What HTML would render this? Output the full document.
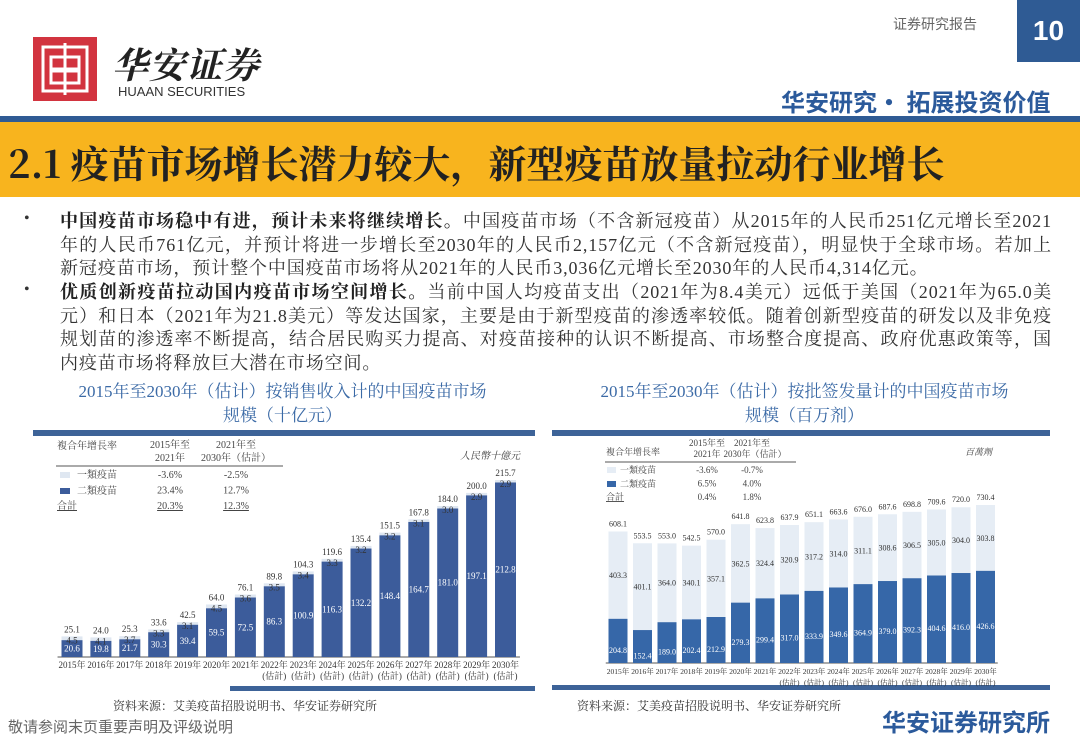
<!DOCTYPE html>
<html><head><meta charset="utf-8">
<style>
body{margin:0;width:1080px;height:748px;background:#fff;position:relative;overflow:hidden;font-family:"Liberation Serif","Noto Serif CJK SC",serif;}
.a{position:absolute;white-space:nowrap;}
.p{position:absolute;left:60px;width:992px;font-size:18px;letter-spacing:0.9px;line-height:23.5px;color:#333;white-space:normal;text-align:justify;font-family:"Liberation Serif","Noto Serif CJK SC",serif;}
.p b{color:#222}
.bul{position:absolute;left:24px;font-size:16px;color:#333}
</style></head><body>
<div class="a" style="left:33px;top:37px;width:64px;height:64px;background:#d2343f;"></div>
<svg class="a" style="left:33px;top:37px" width="64" height="64"><g fill="none" stroke="#fff" stroke-width="3"><rect x="10" y="10" width="44" height="44"/><rect x="18" y="20" width="28" height="12"/><rect x="18" y="34" width="28" height="12"/><line x1="32" y1="6" x2="32" y2="58"/></g></svg>
<div class="a" style="left:112px;top:38px;font-size:36px;font-weight:bold;font-family:'Noto Serif CJK SC',serif;color:#222;letter-spacing:1px;font-style:italic">华安证券</div>
<div class="a" style="left:118px;top:84px;font-size:13px;color:#333;font-family:'Liberation Sans',sans-serif">HUAAN SECURITIES</div>
<div class="a" style="left:893px;top:14px;font-size:14px;color:#666;font-family:'Noto Sans CJK SC',sans-serif">证券研究报告</div>
<div class="a" style="left:1017px;top:0;width:63px;height:62px;background:#2f5b94;color:#fff;font:bold 28px 'Liberation Sans',sans-serif;text-align:center;line-height:62px">10</div>
<div class="a" style="left:781px;top:83px;font-size:24px;font-weight:bold;color:#2b5a9b;font-family:'Noto Sans CJK SC',sans-serif">华安研究• 拓展投资价值</div>
<div class="a" style="left:0;top:116px;width:1080px;height:6px;background:#2f5b94"></div>
<div class="a" style="left:0;top:122px;width:1080px;height:75px;background:#f8b41e"></div>
<div class="a" style="left:8px;top:134px;font-size:38px;font-weight:bold;color:#222;font-family:'Noto Serif CJK SC',serif">2.1 疫苗市场增长潜力较大，新型疫苗放量拉动行业增长</div>

<div class="bul" style="top:210px">•</div>
<div class="p" style="top:210px"><b>中国疫苗市场稳中有进，预计未来将继续增长。</b>中国疫苗市场（不含新冠疫苗）从2015年的人民币251亿元增长至2021年的人民币761亿元，并预计将进一步增长至2030年的人民币2,157亿元（不含新冠疫苗），明显快于全球市场。若加上新冠疫苗市场，预计整个中国疫苗市场将从2021年的人民币3,036亿元增长至2030年的人民币4,314亿元。</div>
<div class="bul" style="top:281px">•</div>
<div class="p" style="top:281px"><b>优质创新疫苗拉动国内疫苗市场空间增长。</b>当前中国人均疫苗支出（2021年为8.4美元）远低于美国（2021年为65.0美元）和日本（2021年为21.8美元）等发达国家，主要是由于新型疫苗的渗透率较低。随着创新型疫苗的研发以及非免疫规划苗的渗透率不断提高，结合居民购买力提高、对疫苗接种的认识不断提高、市场整合度提高、政府优惠政策等，国内疫苗市场将释放巨大潜在市场空间。</div>

<div class="a" style="left:30px;top:380px;width:505px;text-align:center;font-size:17px;line-height:24px;color:#3b6aa6;white-space:normal">2015年至2030年（估计）按销售收入计的中国疫苗市场<br>规模（十亿元）</div>
<div class="a" style="left:552px;top:380px;width:505px;text-align:center;font-size:17px;line-height:24px;color:#3b6aa6;white-space:normal">2015年至2030年（估计）按批签发量计的中国疫苗市场<br>规模（百万剂）</div>
<div class="a" style="left:33px;top:430px;width:502px;height:6px;background:#3d6398"></div>
<div class="a" style="left:552px;top:430px;width:498px;height:6px;background:#3d6398"></div>
<div class="a" style="left:230px;top:686px;width:305px;height:5px;background:#3d6398"></div>
<div class="a" style="left:552px;top:685px;width:498px;height:5px;background:#3d6398"></div>

<svg id="charts" class="a" style="left:0;top:0" width="1080" height="748" font-family="'Liberation Serif','Noto Serif CJK SC',serif"></svg>

<div class="a" style="left:113px;top:697px;font-size:12px;color:#333">资料来源：艾美疫苗招股说明书、华安证券研究所</div>
<div class="a" style="left:577px;top:697px;font-size:12px;color:#333">资料来源：艾美疫苗招股说明书、华安证券研究所</div>
<div class="a" style="left:8px;top:716px;font-size:15px;color:#666;font-family:'Noto Sans CJK SC',sans-serif">敬请参阅末页重要声明及评级说明</div>
<div class="a" style="left:882px;top:703px;font-size:24px;font-weight:bold;color:#2b5a9b;font-family:'Noto Sans CJK SC',sans-serif">华安证券研究所</div>

<script>
const years=['2015年','2016年','2017年','2018年','2019年','2020年','2021年','2022年','2023年','2024年','2025年','2026年','2027年','2028年','2029年','2030年'];
const estFlag=[0,0,0,0,0,0,0,1,1,1,1,1,1,1,1,1];
const revType2=[20.6,19.8,21.7,30.3,39.4,59.5,72.5,86.3,100.9,116.3,132.2,148.4,164.7,181.0,197.1,212.8];
const revType1=[4.5,4.1,3.7,3.3,3.1,4.5,3.6,3.5,3.4,3.3,3.2,3.2,3.1,3.0,2.9,2.9];
const revTotal=[25.1,24.0,25.3,33.6,42.5,64.0,76.1,89.8,104.3,119.6,135.4,151.5,167.8,184.0,200.0,215.7];
const volType2=[204.8,152.4,189.0,202.4,212.9,279.3,299.4,317.0,333.9,349.6,364.9,379.0,392.3,404.6,416.0,426.6];
const volType1=[403.3,401.1,364.0,340.1,357.1,362.5,324.4,320.9,317.2,314.0,311.1,308.6,306.5,305.0,304.0,303.8];
const volTotal=[608.1,553.5,553.0,542.5,570.0,641.8,623.8,637.9,651.1,663.6,676.0,687.6,698.8,709.6,720.0,730.4];

const svg=document.getElementById('charts');
const NS='http://www.w3.org/2000/svg';
function mk(tag,attrs,txt){const e=document.createElementNS(NS,tag);for(const k in attrs)e.setAttribute(k,attrs[k]);if(txt!==undefined)e.textContent=txt;svg.appendChild(e);return e;}

function chart(cfg){
  const y=v=>cfg.base-v*cfg.h/cfg.max;
  const x=i=>cfg.x0+i*cfg.pitch;
  let ax=mk('line',{x1:cfg.x0-cfg.pitch/2,x2:x(15)+cfg.pitch/2,y1:cfg.base,y2:cfg.base,stroke:'#555','stroke-width':1});
  
  
  cfg.t2.forEach((v,i)=>{
    const w=cfg.bw, cx=x(i);
    let r=mk('rect',{x:cx-w/2,y:y(v),width:w,height:cfg.base-y(v),fill:cfg.dark});
    
    
    let r2=mk('rect',{x:cx-w/2,y:y(v+cfg.t1[i]),width:w,height:y(v)-y(v+cfg.t1[i]),fill:cfg.light});
    
    
    let l=mk('text',{x:cx,y:(y(v)+cfg.base)/2+cfg.lo,'text-anchor':'middle','font-size':cfg.fs,fill:'#fff'},v.toFixed(1));
    
    
    let ly=cfg.inTop?y(v+cfg.t1[i])+7:(y(v)+y(v+cfg.t1[i]))/2+3;
    let l1=mk('text',{x:cx,y:ly,'text-anchor':'middle','font-size':cfg.fs,fill:'#333'},cfg.t1[i].toFixed(1));
    
    
    let lt=mk('text',{x:cx,y:y(cfg.tot[i])-(cfg.inTop?4:5),'text-anchor':'middle','font-size':cfg.fs,fill:'#333'},cfg.tot[i].toFixed(1));
    
    
    let tk=mk('text',{x:cx,y:cfg.base+11,'text-anchor':'middle','font-size':cfg.tfs,fill:'#333'},years[i]);
    
    
    if(estFlag[i]){let te=mk('text',{x:cx,y:cfg.base+22,'text-anchor':'middle','font-size':cfg.tfs,fill:'#333'},'(估計)');
    
    }
  });
}
chart({p:'left',base:657,h:177,max:215.7,x0:72,pitch:28.9,bw:21,dark:'#3c5c9b',light:'#dfe7f1',t2:revType2,t1:revType1,tot:revTotal,fs:9,tfs:9,lo:3,inTop:true});
chart({p:'right',base:663,h:158,max:730.4,x0:618,pitch:24.5,bw:19,dark:'#3667a8',light:'#e6edf5',t2:volType2,t1:volType1,tot:volTotal,fs:8,tfs:7.5,lo:12,inTop:false});

function txt(name,x,y,s,fs,anchor,extra){let t=mk('text',Object.assign({x:x,y:y,'font-size':fs,fill:'#444','text-anchor':anchor||'start'},extra||{}),s);return t;}
txt('left-cagr-header',57,449,'複合年增長率',10);
txt('left-col1-header',170,448,'2015年至',10,'middle');txt('left-col1-header2',170,461,'2021年',10,'middle');
txt('left-col2-header',236,448,'2021年至',10,'middle');txt('left-col2-header2',236,461,'2030年（估計）',10,'middle');
mk('line',{x1:56,x2:283,y1:466,y2:466,stroke:'#555'});
mk('rect',{x:60,y:472,width:10,height:6,fill:'#dfe7f1'});mk('rect',{x:60,y:488,width:10,height:6,fill:'#3c5c9b'});
txt('left-legend-type1',77,478,'一類疫苗',10);txt('left-legend-type2',77,494,'二類疫苗',10);txt('left-legend-total',57,509,'合計',10,'start',{'text-decoration':'underline'});
[['-3.6%','-2.5%'],['23.4%','12.7%'],['20.3%','12.3%']].forEach((r,i)=>{txt('left-cagr-value',170,478+i*15.5,r[0],10,'middle',i==2?{'text-decoration':'underline'}:{});txt('left-cagr-value',236,478+i*15.5,r[1],10,'middle',i==2?{'text-decoration':'underline'}:{});});
txt('left-unit',520,459,'人民幣十億元',10,'end',{'font-style':'italic'});
txt('right-cagr-header',606,455,'複合年增長率',9);
txt('right-col1-header',707,446,'2015年至',9,'middle');txt('right-col1-header2',707,457,'2021年',9,'middle');
txt('right-col2-header',752,446,'2021年至',9,'middle');txt('right-col2-header2',755,457,'2030年（估計）',9,'middle');
mk('line',{x1:605,x2:796,y1:462,y2:462,stroke:'#555'});
mk('rect',{x:607,y:467,width:9,height:6,fill:'#e6edf5'});mk('rect',{x:607,y:481,width:9,height:6,fill:'#3667a8'});
txt('right-legend-type1',620,473,'一類疫苗',9);txt('right-legend-type2',620,487,'二類疫苗',9);txt('right-legend-total',606,500,'合計',9,'start',{'text-decoration':'underline'});
[['-3.6%','-0.7%'],['6.5%','4.0%'],['0.4%','1.8%']].forEach((r,i)=>{txt('right-cagr-value',707,473+i*13.5,r[0],9,'middle');txt('right-cagr-value',752,473+i*13.5,r[1],9,'middle');});
txt('right-unit',992,455,'百萬劑',9,'end',{'font-style':'italic'});
</script>
</body></html>
